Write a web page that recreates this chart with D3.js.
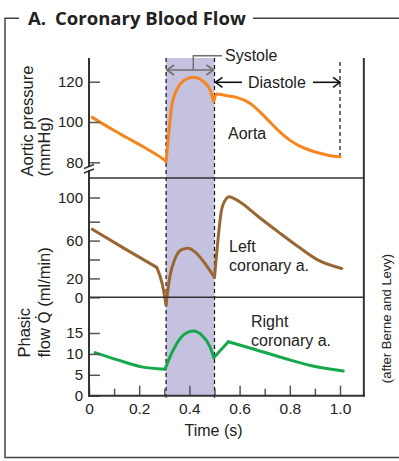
<!DOCTYPE html>
<html><head><meta charset="utf-8">
<script src="https://cdn.jsdelivr.net/npm/d3@7"></script>
<style>
html,body{margin:0;padding:0;background:#fff;}
svg{display:block;font-family:"Liberation Sans",Arial,sans-serif;}
</style></head>
<body><svg id="c" width="399" height="461"></svg>
<script>
// ---- data ----
const titleParts = ["A.", "Coronary Blood Flow"];
const systole = [0.307, 0.5];
const cycleEnd = 1.0;

const aortaTime  = [0.013,0.097,0.15,0.216,0.283,0.307, 0.316,0.33,0.35,0.383,0.415,0.455,0.482,0.497, 0.508,0.55,0.588,0.641,0.681,0.721,0.761,0.8,0.84,0.88,0.92,0.96,1.0];
const aortaPress = [102.3,96,92.3,87.7,82.7,80.5, 92,108.5,116,121,122.2,120.2,116,110.2, 113.9,113,112.2,109.3,105,100,95,91,88,86,84.5,83.3,82.7];
const aortaBreaks = [5, 13];

const leftTime = [0.013,0.14,0.27, 0.292,0.307, 0.322,0.343,0.369,0.396,0.422,0.462,0.5, 0.515,0.528,0.548,0.557,0.6,0.675,0.754,0.834,0.913,1.007];
const leftFlow = [72,51.8,31.6, 14,-8, 21.7,41,50.5,52,48,35.8,21, 64,89.7,99.3,100.7,96.5,84.1,69.2,53.4,39.3,30.5];
const leftBreaks = [2, 4, 11];

const rightTime = [0.024,0.117,0.21,0.303, 0.329,0.369,0.395,0.416,0.449,0.482,0.497, 0.555, 0.648,0.781,0.887,1.013];
const rightFlow = [10.3,8.5,6.9,6.35, 10.1,14.1,15.2,15.5,14.5,11.7,9.1, 12.9, 11.3,8.9,7.15,5.9];
const rightBreaks = [3, 10, 11];

const aortaTicks = [80,100,120];
const leftTicks = [0,20,40,60,80,100];
const leftTickLabels = ["0","20","","60","","100"];
const rightTicks = [0,5,10,15];
const timeTicks = [0,0.2,0.4,0.6,0.8,1.0];
const timeTickLabels = ["0","0.2","0.4","0.6","0.8","1.0"];
const timeMinorTicks = [0.1,0.3,0.5,0.7,0.9];

// ---- drawing ----
const svg = d3.select("#c");
const ink = "#222", axisCol = "#333", tickCol = "#555";
const ORANGE = "#f5861f", BROWN = "#9a6734", GREEN = "#17a84b", LAV = "#c5c2e0";

const x = d3.scaleLinear().domain([0,1]).range([89,340]);
const xMax = 1.095;
const yA = d3.scaleLinear().domain([80,120]).range([162.3,81.7]);
const yL = d3.scaleLinear().domain([0,80,100]).range([297.3,221.7,197.5]);
const yR = d3.scaleLinear().domain([0,15]).range([395.7,333]);
const yTop = 58, sep1 = 178, sep2 = yL(0), yBot = yR(0);

// outer frame
const fr = svg.append("g").attr("stroke","#444").attr("stroke-width",1.5).attr("fill","none");
fr.append("path").attr("d",`M19,18.3H5V457.5H399`);
fr.append("path").attr("d",`M253,18.3H399`);
const tt = svg.append("text").attr("x",28).attr("y",24.8).attr("font-family","'Open Sans',sans-serif")
  .attr("font-weight",700).attr("font-size",18.5).attr("fill",ink);
tt.append("tspan").text(titleParts[0]);
tt.append("tspan").attr("dx",9).text(titleParts[1]);

// systole shading
svg.append("rect").attr("x",x(systole[0])).attr("y",yTop).attr("width",x(systole[1])-x(systole[0]))
  .attr("height",yBot-yTop).attr("fill",LAV);

// dashed lines
const dash = svg.append("g").attr("stroke","#111").attr("stroke-width",1.2).attr("stroke-dasharray","4,3");
systole.forEach(t=>dash.append("line").attr("x1",x(t)).attr("x2",x(t)).attr("y1",yTop).attr("y2",yBot+2));
dash.append("line").attr("x1",x(cycleEnd)).attr("x2",x(cycleEnd)).attr("y1",62).attr("y2",yA(aortaPress[aortaPress.length-1]));

// curves, split at sharp corners
function drawSeries(ts, vs, breaks, ys, color){
  const pts = ts.map((t,i)=>[x(t), ys(vs[i])]);
  const cuts = [0, ...breaks, pts.length-1];
  const line = d3.line().curve(d3.curveMonotoneX);
  for(let k=0;k<cuts.length-1;k++){
    const seg = pts.slice(cuts[k], cuts[k+1]+1);
    svg.append("path").attr("d",line(seg)).attr("fill","none").attr("stroke",color)
      .attr("stroke-width",3).attr("stroke-linejoin","round").attr("stroke-linecap","round");
  }
}
drawSeries(aortaTime, aortaPress, aortaBreaks, yA, ORANGE);
drawSeries(leftTime, leftFlow, leftBreaks, yL, BROWN);
drawSeries(rightTime, rightFlow, rightBreaks, yR, GREEN);

// y axes (ticks pointing inward)
function yAxis(scale, ticks, labels){
  const g = svg.append("g").attr("transform","translate(89,0)")
    .call(d3.axisLeft(scale).tickValues(ticks).tickSizeInner(-11).tickSizeOuter(0).tickPadding(6)
      .tickFormat((d,i)=>labels ? labels[i] : d));
  g.select(".domain").remove();
  g.selectAll(".tick line").attr("stroke",tickCol).attr("stroke-width",1.5);
  g.selectAll(".tick text").attr("font-size",15).attr("fill",ink).attr("font-family","'Liberation Sans',Arial,sans-serif");
  return g;
}
yAxis(yA, aortaTicks);
yAxis(yL, leftTicks, leftTickLabels);
yAxis(yR, rightTicks);

// x axis
const gx = svg.append("g").attr("transform",`translate(0,${yBot})`)
  .call(d3.axisBottom(x).tickValues(timeTicks).tickSizeInner(-10).tickSizeOuter(0).tickPadding(7)
    .tickFormat((d,i)=>timeTickLabels[i]));
gx.select(".domain").remove();
gx.selectAll(".tick line").attr("stroke",tickCol).attr("stroke-width",1.5);
gx.selectAll(".tick text").attr("font-size",15.5).attr("fill",ink).attr("font-family","'Liberation Sans',Arial,sans-serif");
const gm = svg.append("g").attr("transform",`translate(0,${yBot})`)
  .call(d3.axisBottom(x).tickValues(timeMinorTicks).tickSizeInner(-7).tickSizeOuter(0).tickFormat(""));
gm.select(".domain").remove();
gm.selectAll(".tick line").attr("stroke",tickCol).attr("stroke-width",1.5);

// frame lines of plot
const ax = svg.append("g").attr("stroke",axisCol).attr("fill","none");
ax.append("line").attr("x1",89).attr("x2",89).attr("y1",yTop).attr("y2",yBot+1).attr("stroke-width",2);
ax.append("line").attr("x1",x(xMax)).attr("x2",x(xMax)).attr("y1",yTop).attr("y2",yBot+1).attr("stroke-width",2);
ax.append("line").attr("x1",88).attr("x2",x(xMax)+1).attr("y1",yBot).attr("y2",yBot).attr("stroke-width",2);
ax.append("line").attr("x1",89).attr("x2",x(xMax)).attr("y1",sep1).attr("y2",sep1).attr("stroke-width",1.6);
ax.append("line").attr("x1",89).attr("x2",x(xMax)).attr("y1",sep2).attr("y2",sep2).attr("stroke-width",1.6);
// axis break marks
ax.append("rect").attr("x",86).attr("y",167).attr("width",6).attr("height",3).attr("fill","#fff").attr("stroke","none");
ax.append("line").attr("x1",84).attr("y1",168.5).attr("x2",94).attr("y2",164.5).attr("stroke-width",1.4);
ax.append("line").attr("x1",84).attr("y1",173).attr("x2",94).attr("y2",169).attr("stroke-width",1.4);

// systole / diastole annotations
const chev = (g, xt, y, dir, col) => g.append("path")
  .attr("d",`M${xt+dir*7},${y-5}L${xt},${y}L${xt+dir*7},${y+5}`).attr("fill","none").attr("stroke",col).attr("stroke-width",1.6);
const sy = svg.append("g");
const sysY = 70, sysCol = "#6e6e6e";
sy.append("line").attr("x1",x(systole[0])+1).attr("x2",x(systole[1])-1).attr("y1",sysY).attr("y2",sysY).attr("stroke",sysCol).attr("stroke-width",1.6);
chev(sy, x(systole[0])+1, sysY, 1, sysCol);
chev(sy, x(systole[1])-1, sysY, -1, sysCol);
sy.append("path").attr("d",`M${(x(systole[0])+x(systole[1]))/2+3},${sysY}V55.7H222`).attr("fill","none").attr("stroke",sysCol).attr("stroke-width",1.4);
sy.append("text").attr("x",225).attr("y",61).attr("font-size",16).attr("fill",ink).text("Systole");

const diaY = 82.3;
sy.append("line").attr("x1",x(systole[1])+1).attr("x2",242).attr("y1",diaY).attr("y2",diaY).attr("stroke","#111").attr("stroke-width",1.6);
sy.append("line").attr("x1",313).attr("x2",x(cycleEnd)).attr("y1",diaY).attr("y2",diaY).attr("stroke","#111").attr("stroke-width",1.6);
chev(sy, x(systole[1])+1, diaY, 1, "#111");
chev(sy, x(cycleEnd), diaY, -1, "#111");
sy.append("text").attr("x",248).attr("y",87.5).attr("font-size",16).attr("fill",ink).text("Diastole");

// curve labels
const lab = (tx, ty, s) => svg.append("text").attr("x",tx).attr("y",ty).attr("font-size",16).attr("fill",ink).text(s);
lab(228, 138.5, "Aorta");
lab(229, 251.5, "Left");
lab(229, 270.5, "coronary a.");
lab(251, 326.5, "Right");
lab(251, 345.5, "coronary a.");

// axis titles
const vt = (tx, ty, s, fs, anchor) => svg.append("text").attr("transform",`translate(${tx},${ty}) rotate(-90)`)
  .attr("font-size",fs).attr("fill",ink).attr("text-anchor",anchor).text(s);
vt(33, 176.5, "Aortic pressure", 16.5, "start");
vt(50, 176.5, "(mmHg)", 16.5, "start");
vt(30, 357.5, "Phasic", 16.5, "start");
const fl = svg.append("text").attr("transform",`translate(50,357.5) rotate(-90)`)
  .attr("font-size",16.5).attr("fill",ink);
fl.append("tspan").text("flow ");
fl.append("tspan").attr("font-family","'DejaVu Sans',sans-serif").attr("font-size",15.5).text("Q\u0307");
fl.append("tspan").text(" (ml/min)");
svg.append("text").attr("x",(x(0)+x(cycleEnd))/2-1).attr("y",436).attr("text-anchor","middle")
  .attr("font-size",16).attr("fill",ink).text("Time (s)");
vt(391, 318.5, "(after Berne and Levy)", 13, "middle");
</script></body></html>
